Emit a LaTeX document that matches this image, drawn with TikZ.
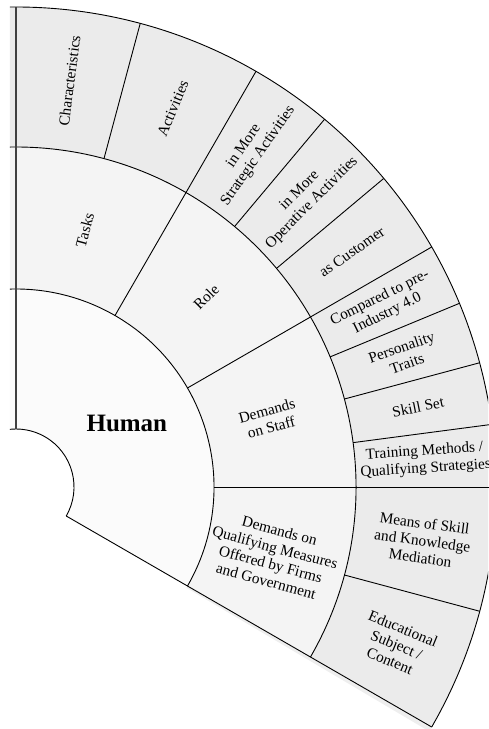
\documentclass[tikz,border=0pt]{standalone}
\usepackage{fontspec}
\setmainfont{Liberation Serif}
\definecolor{ringA}{HTML}{FBFBFB}
\definecolor{ringB}{HTML}{F4F4F4}
\definecolor{ringC}{HTML}{EBEBEB}
\definecolor{shadowc}{HTML}{EEEEEE}
\definecolor{darkline}{HTML}{404040}
\newcommand{\ringfill}[4]{% color, r1, r2, end angle
  \fill[#1] (-30:#2) arc[start angle=-30,end angle=#4,radius=#2] -- (#4:#3) arc[start angle=#4,end angle=-30,radius=#3] -- cycle;}
\begin{document}
\begin{tikzpicture}[x=1pt,y=1pt,
  lbl/.style={font=\fontsize{15.3}{17.3}\selectfont, align=center, inner sep=0pt},
  sep/.style={line width=0.9pt, draw=black},
  edge/.style={line width=2.2pt, draw=darkline}]
\useasboundingbox (-16,-242) rectangle (472,487);
\begin{scope}
  \clip (-6,-242) rectangle (472,487);
  \ringfill{ringA}{58}{198}{100}
  \ringfill{ringB}{198}{340}{100}
  \ringfill{ringC}{340}{480}{100}
  \fill[shadowc] (-30:198) -- (-30:480) -- (-30.6:480) -- (-30.6:198) -- cycle;
  \draw[sep] (-30:58) arc[start angle=-30,end angle=100,radius=58];
  \draw[sep] (-30:198) arc[start angle=-30,end angle=100,radius=198];
  \draw[sep] (-30:340) arc[start angle=-30,end angle=100,radius=340];
  \draw[sep] (-30:480) arc[start angle=-30,end angle=100,radius=480];
\end{scope}
% radial separators
\draw[sep] (-30:58) -- (-30:480);
\foreach \a in {60,30,0} \draw[sep] (\a:198) -- (\a:480);
\foreach \a in {75,50,40,22.5,15,7.5,-15} \draw[sep] (\a:340) -- (\a:480);
\draw[edge] (90:58) -- (90:480);
% labels, ring 1
\node[font=\bfseries\fontsize{25}{29}\selectfont, inner sep=0pt] (human) at (30:128) {Human};
% ring 2
\node[lbl, rotate=75] (tasks) at (75:266) {Tasks};
\node[lbl, rotate=45] (role) at (45:269) {Role};
\node[lbl, rotate=15] (staff) at (15:262) {Demands\\on Staff};
\node[lbl, rotate=-15] (qual) at (-15:266) {Demands on\\Qualifying Measures\\Offered by Firms\\and Government};
% ring 3
\node[lbl, rotate=82.5] (char) at (82.5:410) {Characteristics};
\node[lbl, rotate=67.5] (act) at (67.5:410) {Activities};
\node[lbl, rotate=55] (strat) at (55:410) {in More\\Strategic Activities};
\node[lbl, rotate=45] (oper) at (45:410) {in More\\Operative Activities};
\node[lbl, rotate=35] (cust) at (35:410) {as Customer};
\node[lbl, rotate=26.25] (comp) at (26.25:410) {Compared to pre-\\Industry 4.0};
\node[lbl, rotate=18.75] (pers) at (18.75:410) {Personality\\Traits};
\node[lbl, rotate=11.25] (skill) at (11.25:410) {Skill Set};
\node[lbl, rotate=3.75] (train) at (3.75:410) {Training Methods /\\Qualifying Strategies};
\node[lbl, rotate=-7.5] (means) at (-7.5:410) {Means of Skill\\and Knowledge\\Mediation};
\node[lbl, rotate=-22.5] (edu) at (-22.5:412) {Educational\\Subject /\\Content};
\end{tikzpicture}
\end{document}
